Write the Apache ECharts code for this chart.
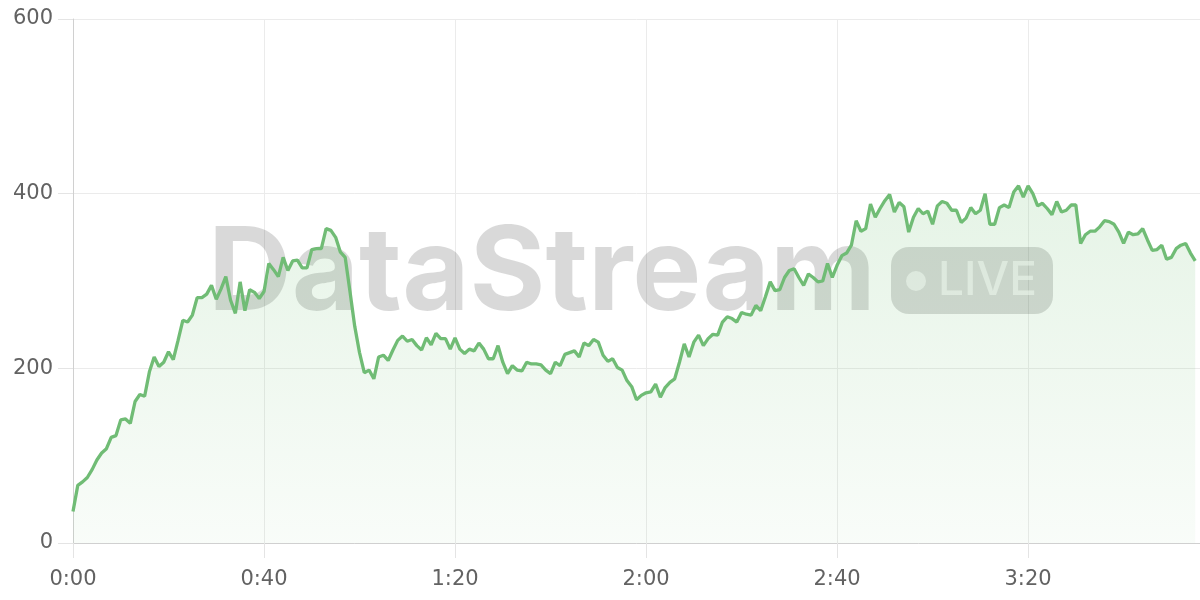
<!DOCTYPE html>
<html>
<head>
<meta charset="utf-8">
<script src="https://cdn.jsdelivr.net/npm/echarts@6/dist/echarts.min.js"></script>
<style>
html,body{margin:0;padding:0;background:#ffffff;}
#chart{width:1200px;height:600px;}
</style>
</head>
<body>
<div id="chart"></div>
<script>
// Series values, one per second (0:00 .. 3:55)
const streamValues = [
  36, 66, 70, 75, 84, 95, 103, 108, 121, 123,
  141, 142, 137, 162, 170, 168, 196, 213, 202, 207,
  219, 210, 232, 255, 253, 261, 281, 281, 285, 295,
  279, 291, 305, 278, 263, 299, 266, 290, 287, 280,
  288, 320, 313, 305, 327, 312, 323, 324, 315, 315,
  336, 337, 337, 360, 358, 350, 333, 327, 288, 248,
  218, 195, 198, 188, 213, 215, 209, 221, 232, 237,
  231, 233, 226, 221, 235, 227, 240, 234, 234, 222,
  235, 222, 217, 222, 220, 229, 222, 211, 211, 226,
  207, 194, 203, 198, 197, 207, 205, 205, 204, 198,
  194, 207, 203, 216, 218, 220, 213, 229, 226, 233,
  230, 215, 208, 211, 201, 198, 186, 179, 164, 169,
  172, 173, 182, 167, 178, 184, 188, 207, 228, 213,
  230, 238, 226, 234, 239, 238, 253, 259, 257, 253,
  264, 262, 261, 272, 266, 282, 299, 289, 290, 304,
  312, 314, 304, 295, 308, 304, 299, 300, 320, 304,
  318, 329, 332, 341, 369, 357, 360, 388, 373, 383,
  392, 399, 379, 390, 385, 356, 373, 383, 377, 380,
  365, 386, 391, 389, 381, 381, 367, 372, 384, 377,
  381, 400, 365, 365, 384, 387, 384, 402, 409, 396,
  409, 400, 386, 389, 383, 376, 391, 379, 381, 387,
  387, 343, 353, 357, 357, 362, 369, 368, 365, 356,
  343, 356, 353, 354, 360, 347, 335, 336, 341, 325,
  327, 337, 341, 343, 332, 323
];

// Time slots on the x axis (seconds 0 .. 236), labelled m:ss
const slotCount = 237;
const timeCategories = [];
for (let s = 0; s < slotCount; s++) {
  timeCategories.push(Math.floor(s / 60) + ':' + String(s % 60).padStart(2, '0'));
}
const xLabelEvery = 40;           // 0:00, 0:40, 1:20, 2:00, 2:40, 3:20
const yTickValues = [0, 200, 400, 600];
const watermarkTitle = 'DataStream';
const watermarkBadge = 'LIVE';

const chart = echarts.init(document.getElementById('chart'), null, {renderer: 'canvas'});

const labelFont = {color: '#626262', fontSize: 21, fontFamily: 'DejaVu Sans'};

chart.setOption({
  animation: false,
  backgroundColor: '#ffffff',
  grid: {left: 73, right: 0, top: 19, bottom: 57, containLabel: false},
  xAxis: {
    type: 'category',
    data: timeCategories,
    boundaryGap: false,
    axisLine: {show: true, lineStyle: {color: '#d0d0d0', width: 1}},
    axisTick: {show: true, length: 15, interval: xLabelEvery - 1, lineStyle: {color: '#e4e4e4'}},
    axisLabel: Object.assign({interval: xLabelEvery - 1, margin: 26}, labelFont),
    splitLine: {show: true, interval: xLabelEvery - 1, lineStyle: {color: '#ebebeb', width: 1}}
  },
  yAxis: {
    type: 'value',
    min: yTickValues[0],
    max: yTickValues[yTickValues.length - 1],
    interval: yTickValues[1] - yTickValues[0],
    axisLine: {show: true, lineStyle: {color: '#d0d0d0', width: 1}},
    axisTick: {show: true, length: 15, lineStyle: {color: '#e4e4e4'}},
    axisLabel: Object.assign({margin: 20}, labelFont),
    splitLine: {show: true, lineStyle: {color: '#ebebeb', width: 1}}
  },
  series: [{
    type: 'line',
    data: streamValues,
    showSymbol: false,
    symbol: 'none',
    smooth: false,
    z: 3,
    lineStyle: {color: '#70bc75', width: 3.3},
    itemStyle: {color: '#70bc75'},
    areaStyle: {
      color: new echarts.graphic.LinearGradient(0, 0, 0, 1, [
        {offset: 0, color: 'rgba(102,187,106,0.24)'},
        {offset: 1, color: 'rgba(102,187,106,0.06)'}
      ])
    }
  }],
  graphic: [
    {
      type: 'text',
      z: 1,
      x: 208,
      y: 275,
      style: {
        text: watermarkTitle,
        fontSize: 116,
        fontWeight: 'bold',
        fontFamily: 'Inter',
        fill: 'rgba(0,0,0,0.15)',
        align: 'left',
        verticalAlign: 'middle'
      }
    },
    {
      type: 'rect',
      z: 1,
      shape: {x: 891, y: 247, width: 162, height: 67, r: 18},
      style: {fill: 'rgba(0,0,0,0.15)'}
    },
    {
      type: 'circle',
      z: 2,
      shape: {cx: 916, cy: 281, r: 10},
      style: {fill: 'rgba(255,255,255,0.6)'}
    },
    {
      type: 'text',
      z: 2,
      x: 938,
      y: 281,
      style: {
        text: watermarkBadge,
        fontSize: 46,
        fontWeight: 500,
        fontFamily: 'Inter',
        fill: 'rgba(255,255,255,0.6)',
        align: 'left',
        verticalAlign: 'middle'
      }
    }
  ]
});
</script>
</body>
</html>
